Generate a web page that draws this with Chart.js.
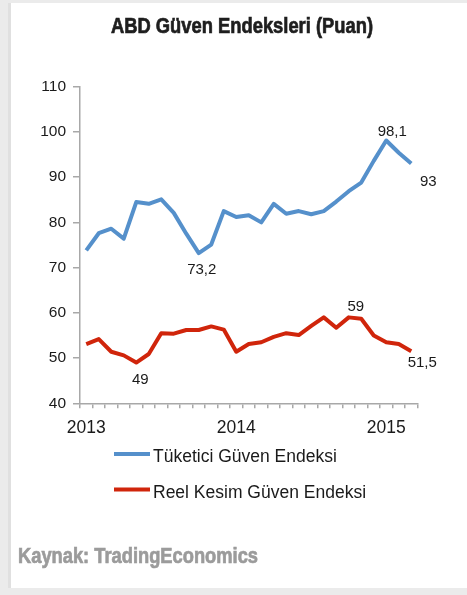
<!DOCTYPE html>
<html>
<head>
<meta charset="utf-8">
<script src="https://cdn.jsdelivr.net/npm/chart.js@4"></script>
<style>
  html, body { margin: 0; padding: 0; background: #ebebeb; width: 467px; height: 595px; overflow: hidden; }
  #paper { position: absolute; left: 11px; top: 3px; width: 456px; height: 585px; background: #fff; box-shadow: -3px 0 0 #e0e0e0; }
  #chart { position: absolute; left: 0; top: 0; }
</style>
</head>
<body>
<div id="paper"></div>
<canvas id="chart" width="467" height="595"></canvas>
<script>
const months = [
  '2013-01','2013-02','2013-03','2013-04','2013-05','2013-06','2013-07','2013-08','2013-09','2013-10','2013-11','2013-12',
  '2014-01','2014-02','2014-03','2014-04','2014-05','2014-06','2014-07','2014-08','2014-09','2014-10','2014-11','2014-12',
  '2015-01','2015-02','2015-03'
];
const yearTicks = ['2013', '2014', '2015'];
const consumer = [73.8, 77.6, 78.6, 76.4, 84.5, 84.1, 85.1, 82.1, 77.5, 73.2, 75.1, 82.5,
                  81.2, 81.6, 80.0, 84.1, 81.9, 82.5, 81.8, 82.5, 84.6, 86.9, 88.8, 93.6,
                  98.1, 95.4, 93.0];
const business = [53.1, 54.2, 51.4, 50.6, 49.0, 50.9, 55.5, 55.4, 56.2, 56.2, 57.0, 56.3,
                  51.4, 53.1, 53.5, 54.7, 55.5, 55.1, 57.1, 59.0, 56.7, 59.0, 58.7, 55.0,
                  53.5, 53.1, 51.5];
const seriesNames = ['Tüketici Güven Endeksi', 'Reel Kesim Güven Endeksi'];
const yMin = 40, yMax = 110, yStep = 10;

const FONT = '"Liberation Sans", Arial, sans-serif';
const BLUE = '#5590cb';
const RED = '#d0250b';
const AXIS = '#a8a8a8';

// which points get a value label, and where it sits relative to the point
const callouts = [
  {ds: 0, i: 9,  dx: 3,  dy: 17},
  {ds: 0, i: 24, dx: 6,  dy: -9},
  {ds: 0, i: 26, dx: 17, dy: 18},
  {ds: 1, i: 4,  dx: 4,  dy: 17},
  {ds: 1, i: 21, dx: 7,  dy: -11},
  {ds: 1, i: 26, dx: 11, dy: 12}
];

// condensed bold text: squeeze horizontally to a given width, thicken a bit
function squeezedText(ctx, text, x, y, width, align) {
  const w = ctx.measureText(text).width;
  const k = width / w;
  ctx.save();
  ctx.translate(x, y);
  ctx.scale(k, 1);
  ctx.textAlign = align;
  ctx.lineWidth = 0.7;
  ctx.strokeStyle = ctx.fillStyle;
  ctx.fillText(text, 0, 0);
  ctx.strokeText(text, 0, 0);
  ctx.restore();
}

const decorations = {
  id: 'decorations',
  afterDatasetsDraw(chart) {
    const ctx = chart.ctx;
    ctx.save();
    // value labels
    ctx.font = '15px ' + FONT;
    ctx.fillStyle = '#1a1a1a';
    ctx.textAlign = 'center';
    ctx.textBaseline = 'middle';
    callouts.forEach(c => {
      const pt = chart.getDatasetMeta(c.ds).data[c.i];
      const v = chart.data.datasets[c.ds].data[c.i];
      ctx.fillText(String(v).replace('.', ','), pt.x + c.dx, pt.y + c.dy);
    });

    // title
    ctx.textBaseline = 'alphabetic';
    ctx.font = 'bold 22px ' + FONT;
    ctx.fillStyle = '#1e1e1e';
    squeezedText(ctx, 'ABD Güven Endeksleri (Puan)', 242, 32.5, 262, 'center');

    // legend
    const rows = [{line: 454, text: 462}, {line: 489.5, text: 497.5}];
    ctx.font = '17.5px ' + FONT;
    ctx.textAlign = 'left';
    chart.data.datasets.forEach((ds, k) => {
      ctx.strokeStyle = ds.borderColor;
      ctx.lineWidth = 4;
      ctx.lineCap = 'butt';
      ctx.beginPath();
      ctx.moveTo(114, rows[k].line);
      ctx.lineTo(150, rows[k].line);
      ctx.stroke();
      ctx.fillStyle = '#1a1a1a';
      ctx.fillText(ds.label, 153, rows[k].text);
    });

    // source
    ctx.font = 'bold 22px ' + FONT;
    ctx.fillStyle = '#9b9b9b';
    squeezedText(ctx, 'Kaynak: TradingEconomics', 18, 563, 240, 'left');
    ctx.restore();
  }
};

new Chart(document.getElementById('chart'), {
  type: 'line',
  data: {
    labels: months,
    datasets: [
      {label: seriesNames[0], data: consumer, borderColor: BLUE, backgroundColor: BLUE},
      {label: seriesNames[1], data: business, borderColor: RED, backgroundColor: RED}
    ]
  },
  options: {
    responsive: false,
    animation: false,
    devicePixelRatio: 1,
    layout: {padding: {left: 0, right: 49.5, top: 86.7, bottom: 151.7}},
    elements: {
      line: {borderWidth: 4, tension: 0, borderJoinStyle: 'round', borderCapStyle: 'butt'},
      point: {radius: 0, hoverRadius: 0}
    },
    plugins: {legend: {display: false}, title: {display: false}, tooltip: {enabled: false}},
    scales: {
      x: {
        type: 'category',
        offset: true,
        grid: {offset: true, drawOnChartArea: false, drawTicks: true, tickLength: 5, color: AXIS, lineWidth: 1.5},
        border: {color: AXIS, width: 1.5},
        ticks: {
          autoSkip: false, maxRotation: 0, minRotation: 0, padding: 9,
          color: '#1a1a1a', font: {family: FONT, size: 17.5},
          callback: (v, i) => {
            const m = months[i];
            return m.endsWith('-01') ? yearTicks.find(y => m.startsWith(y)) : '';
          }
        },
        afterFit: s => { s.height = 40; }
      },
      y: {
        min: yMin, max: yMax,
        grid: {drawOnChartArea: false, drawTicks: true, tickLength: 7, color: AXIS, lineWidth: 1.5},
        border: {color: AXIS, width: 1.5},
        ticks: {stepSize: yStep, padding: 7, color: '#1a1a1a', font: {family: FONT, size: 15.5}},
        afterFit: s => { s.width = 80; }
      }
    }
  },
  plugins: [decorations]
});
</script>
</body>
</html>
